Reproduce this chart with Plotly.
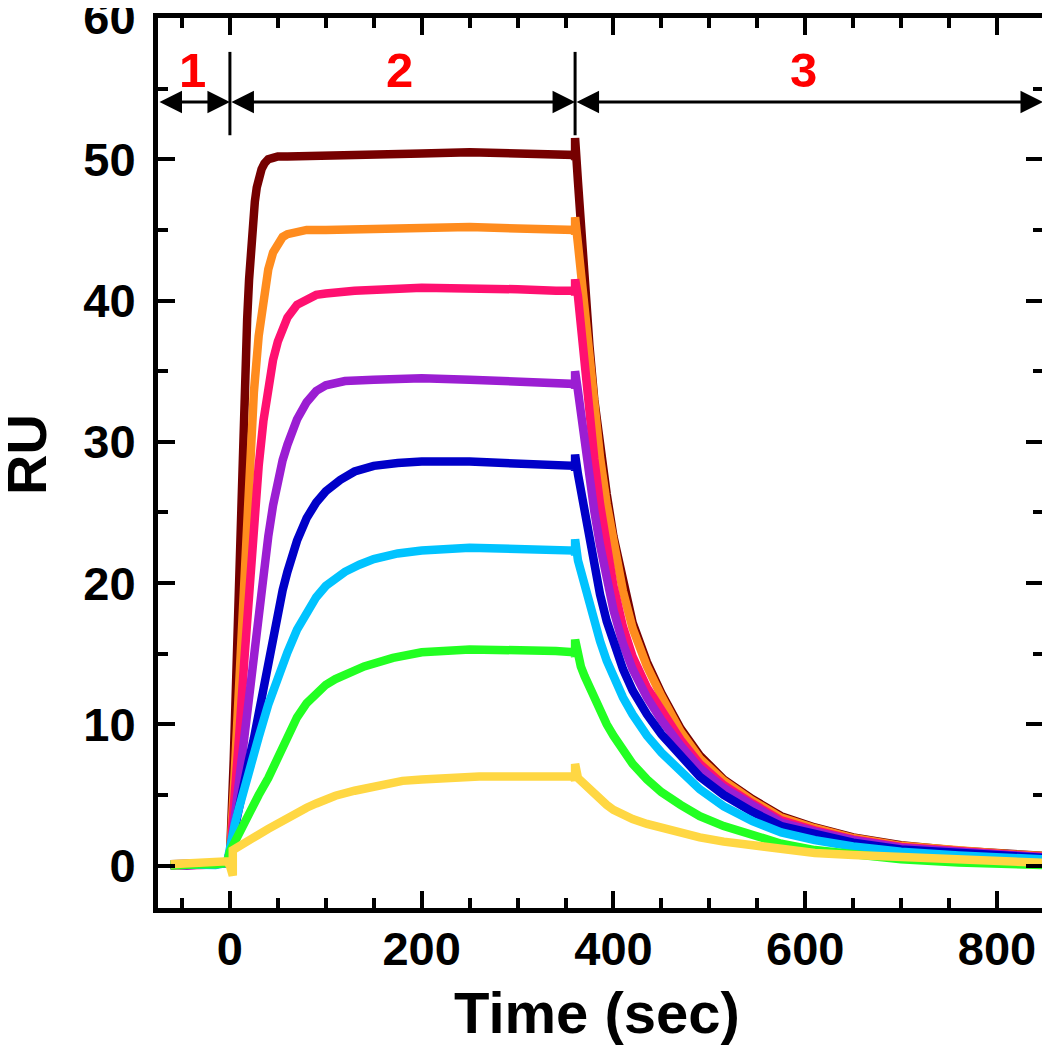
import plotly.graph_objects as go

# ---------------- data ----------------
names = ["c8", "c7", "c6", "c5", "c4", "c3", "c2", "c1"]
colors = ["#760000", "#FF8C1E", "#FF1070", "#9B1ED2", "#0000C8", "#00C3FF", "#22FF22", "#FFD743"]

# phase 1: baseline
base_t = [-62, -45, -30, -15, -3]
base_v = {
    "c8": [0.1, 0.1, 0.1, 0.15, 0.2],
    "c7": [0.1, 0.05, 0.1, 0.1, 0.2],
    "c6": [0.0, 0.1, 0.05, 0.1, 0.2],
    "c5": [0.1, 0.0, 0.1, 0.1, 0.2],
    "c4": [0.05, 0.1, 0.0, 0.1, 0.2],
    "c3": [0.1, 0.05, 0.1, 0.05, 0.2],
    "c2": [0.0, 0.1, 0.1, 0.1, 0.2],
    "c1": [0.1, 0.15, 0.2, 0.25, 0.3],
}

# phase 2: association
assoc_t = {
    "c8": [0, 2, 4, 6, 8, 10, 12, 14, 16, 18, 20, 22, 24, 26, 28, 30, 33, 36, 40, 45, 50, 60, 80, 100, 150, 200, 250, 300, 340, 359],
    "c7": [0, 5, 10, 15, 20, 25, 30, 35, 40, 45, 50, 55, 60, 70, 80, 100, 150, 200, 250, 300, 340, 359],
    "c6": [0, 5, 10, 15, 20, 25, 30, 35, 40, 45, 50, 55, 60, 70, 80, 90, 100, 130, 200, 250, 300, 340, 359],
    "c5": [0, 5, 10, 15, 20, 25, 30, 35, 40, 45, 50, 55, 60, 70, 80, 90, 100, 120, 150, 200, 250, 300, 340, 359],
    "c4": [0, 5, 10, 15, 20, 25, 30, 35, 40, 45, 50, 55, 60, 70, 80, 90, 100, 115, 130, 150, 175, 200, 250, 300, 340, 359],
    "c3": [0, 5, 10, 15, 20, 25, 30, 40, 50, 60, 70, 80, 90, 100, 110, 120, 135, 150, 175, 200, 250, 300, 340, 359],
    "c2": [0, 10, 20, 30, 40, 50, 60, 70, 80, 90, 100, 110, 125, 140, 170, 200, 250, 300, 340, 359],
    "c1": [0, 3, 3, 10, 20, 30, 40, 50, 60, 70, 80, 90, 100, 110, 130, 145, 160, 180, 200, 230, 260, 300, 340, 359],
}
assoc_v = {
    "c8": [0.5, 3, 7.5, 12, 17, 22, 26.5, 31, 35, 38.7, 41.5, 43.8, 45.6, 47, 48, 48.7, 49.3, 49.7, 50.0, 50.1, 50.2, 50.2, 50.25, 50.3, 50.4, 50.4, 50.5, 50.4, 50.4, 50.3],
    "c7": [0.5, 6.5, 13.5, 21, 28, 33.5, 37.5, 40.3, 42.2, 43.4, 44.1, 44.5, 44.7, 44.9, 45.0, 45.0, 45.1, 45.1, 45.2, 45.1, 45.0, 45.0],
    "c6": [0.5, 4.5, 9.5, 14.5, 19.5, 24.3, 28.3, 31.5, 34.0, 35.8, 37.1, 38.1, 38.8, 39.7, 40.1, 40.4, 40.5, 40.7, 40.9, 40.9, 40.8, 40.7, 40.7],
    "c5": [0.5, 3.5, 6.5, 9.5, 12.5, 15.3, 18.0, 20.8, 23.3, 25.5, 27.3, 28.7, 29.8, 31.6, 32.8, 33.6, 34.0, 34.3, 34.4, 34.5, 34.4, 34.3, 34.2, 34.1],
    "c4": [1.0, 2.8, 4.5, 6.0, 7.5, 9.0, 10.8, 12.6, 14.5, 16.2, 17.9, 19.5, 20.8, 23.0, 24.6, 25.7, 26.5, 27.3, 27.9, 28.3, 28.5, 28.6, 28.6, 28.4, 28.3, 28.3],
    "c3": [1.5, 2.9, 4.2, 5.5, 6.8, 8.0, 9.1, 11.4, 13.4, 15.1, 16.7, 18.0, 19.0, 19.8, 20.4, 20.8, 21.3, 21.7, 22.1, 22.3, 22.5, 22.4, 22.4, 22.3],
    "c2": [1.0, 2.4, 3.7, 5.0, 6.2, 7.6, 9.2, 10.5, 11.5, 12.2, 12.8, 13.2, 13.7, 14.1, 14.7, 15.1, 15.3, 15.3, 15.2, 15.1],
    "c1": [0.0, -0.7, 1.1, 1.35, 1.8, 2.2, 2.6, 3.0, 3.4, 3.8, 4.1, 4.4, 4.7, 4.95, 5.3, 5.55, 5.8, 6.0, 6.1, 6.25, 6.3, 6.3, 6.4, 6.3],
}

# phase 3: injection-stop spike (plateau, spike top) then dissociation
spike_t = [360, 360]
spike_v = {
    "c8": [50.0, 51.5], "c7": [44.7, 45.9], "c6": [40.4, 41.5], "c5": [33.8, 35.0],
    "c4": [28.0, 29.1], "c3": [22.0, 23.1], "c2": [14.8, 16.0], "c1": [6.0, 7.2],
}
diss_t = [363, 366, 370, 375, 380, 386, 393, 400, 410, 420, 435, 450, 470, 490, 515, 545, 575, 610, 650, 700, 760, 810, 848]
diss_v = {
    "c8": [48.4, 45.0, 41.0, 36.8, 33.0, 29.6, 26.3, 23.3, 19.9, 17.2, 14.4, 12.2, 9.7, 7.8, 6.1, 4.7, 3.5, 2.7, 2.0, 1.45, 1.05, 0.85, 0.7],
    "c7": [44.0, 42.0, 39.3, 35.7, 32.2, 28.9, 25.6, 22.7, 19.4, 16.8, 14.1, 12.0, 9.5, 7.6, 6.0, 4.6, 3.4, 2.65, 1.95, 1.4, 1.02, 0.82, 0.68],
    "c6": [40.3, 38.2, 35.2, 31.8, 28.8, 25.6, 22.5, 19.8, 16.9, 14.8, 12.6, 10.9, 8.9, 7.2, 5.7, 4.4, 3.2, 2.5, 1.85, 1.32, 0.97, 0.78, 0.62],
    "c5": [33.6, 32.0, 29.9, 27.4, 25.1, 22.7, 20.2, 18.1, 15.7, 13.9, 11.9, 10.3, 8.5, 6.9, 5.5, 4.2, 3.05, 2.4, 1.8, 1.27, 0.93, 0.74, 0.58],
    "c4": [27.7, 26.6, 25.0, 23.0, 21.2, 19.2, 17.3, 15.7, 13.9, 12.4, 10.7, 9.3, 7.7, 6.3, 5.0, 3.8, 2.8, 2.2, 1.62, 1.15, 0.85, 0.68, 0.55],
    "c3": [21.6, 20.8, 19.7, 18.4, 17.2, 15.9, 14.5, 13.3, 11.9, 10.7, 9.2, 8.0, 6.6, 5.4, 4.2, 3.15, 2.35, 1.8, 1.35, 0.98, 0.72, 0.55, 0.45],
    "c2": [14.6, 14.1, 13.4, 12.6, 11.8, 10.9, 10.0, 9.2, 8.1, 7.2, 6.1, 5.2, 4.3, 3.5, 2.8, 2.1, 1.55, 1.1, 0.75, 0.45, 0.22, 0.1, 0.05],
    "c1": [6.2, 6.0, 5.7, 5.35, 5.0, 4.65, 4.3, 3.95, 3.6, 3.3, 2.95, 2.65, 2.3, 2.0, 1.7, 1.4, 1.12, 0.9, 0.75, 0.6, 0.42, 0.3, 0.2],
}

x_ticks = [0, 200, 400, 600, 800]
y_ticks = [0, 10, 20, 30, 40, 50, 60]
phase_labels = ["1", "2", "3"]
phase_bounds = [-75, 0, 360, 848]
phase_label_x = [-39, 177, 598]

FONT = "Liberation Sans, Arial, Helvetica, sans-serif"

fig = go.Figure()
for n, c in zip(names, colors):
    t = base_t + assoc_t[n] + spike_t + diss_t
    v = base_v[n] + assoc_v[n] + spike_v[n] + diss_v[n]
    fig.add_trace(go.Scatter(x=t, y=v, mode="lines", name=n,
                             line=dict(color=c, width=8.5), showlegend=False,
                             hoverinfo="skip"))

axis_common = dict(
    showline=True, linewidth=5, linecolor="black", mirror="allticks",
    ticks="inside", ticklen=17, tickwidth=4, tickcolor="black",
    showgrid=False, zeroline=False, automargin=False, ticklabeloverflow="allow",
    tickfont=dict(family=FONT, size=47, color="black", weight="bold"),
)

# the page body adds an 8 px offset, so margins are shifted up/left by 8 px
fig.update_layout(
    width=1050, height=1048,
    margin=dict(l=150, r=15, t=10, b=148),
    plot_bgcolor="white", paper_bgcolor="white",
    xaxis=dict(range=[-75, 848], tickmode="array", tickvals=x_ticks, ticklabelstandoff=-4,
               minor=dict(dtick=50, tick0=0, ticks="inside", ticklen=10, tickwidth=4, tickcolor="black"),
               **axis_common),
    yaxis=dict(range=[-3, 60], tickmode="array", tickvals=y_ticks, ticklabelstandoff=8,
               minor=dict(dtick=5, tick0=0, ticks="inside", ticklen=10, tickwidth=4, tickcolor="black"),
               **axis_common),
)

# axis titles
fig.add_annotation(x=0.496, y=-0.117, xref="paper", yref="paper", text="Time (sec)",
                   showarrow=False, xanchor="center", yanchor="middle",
                   font=dict(family=FONT, size=58, color="black", weight="bold"))
fig.add_annotation(x=-0.148, y=0.509, xref="paper", yref="paper", text="RU", textangle=-90,
                   showarrow=False, xanchor="center", yanchor="middle",
                   font=dict(family=FONT, size=56, color="black", weight="bold"))

# phase separators
for xb in [0, 360]:
    fig.add_shape(type="line", x0=xb, x1=xb, y0=51.7, y1=57.6, xref="x", yref="y",
                  line=dict(color="black", width=3))

# double-headed arrows and phase numbers
for i, lab in enumerate(phase_labels):
    fig.add_annotation(x=phase_bounds[i + 1], y=54.06, ax=phase_bounds[i], ay=54.06,
                       xref="x", yref="y", axref="x", ayref="y", text="",
                       showarrow=True, arrowside="end+start",
                       arrowhead=2, startarrowhead=2, arrowsize=1.5, startarrowsize=1.5,
                       arrowwidth=3, arrowcolor="black", standoff=0, startstandoff=0)
    fig.add_annotation(x=phase_label_x[i], y=56.3, xref="x", yref="y", text=lab,
                       showarrow=False,
                       font=dict(family=FONT, size=49, color="#FF0000", weight="bold"))

fig.write_html("out.html")
